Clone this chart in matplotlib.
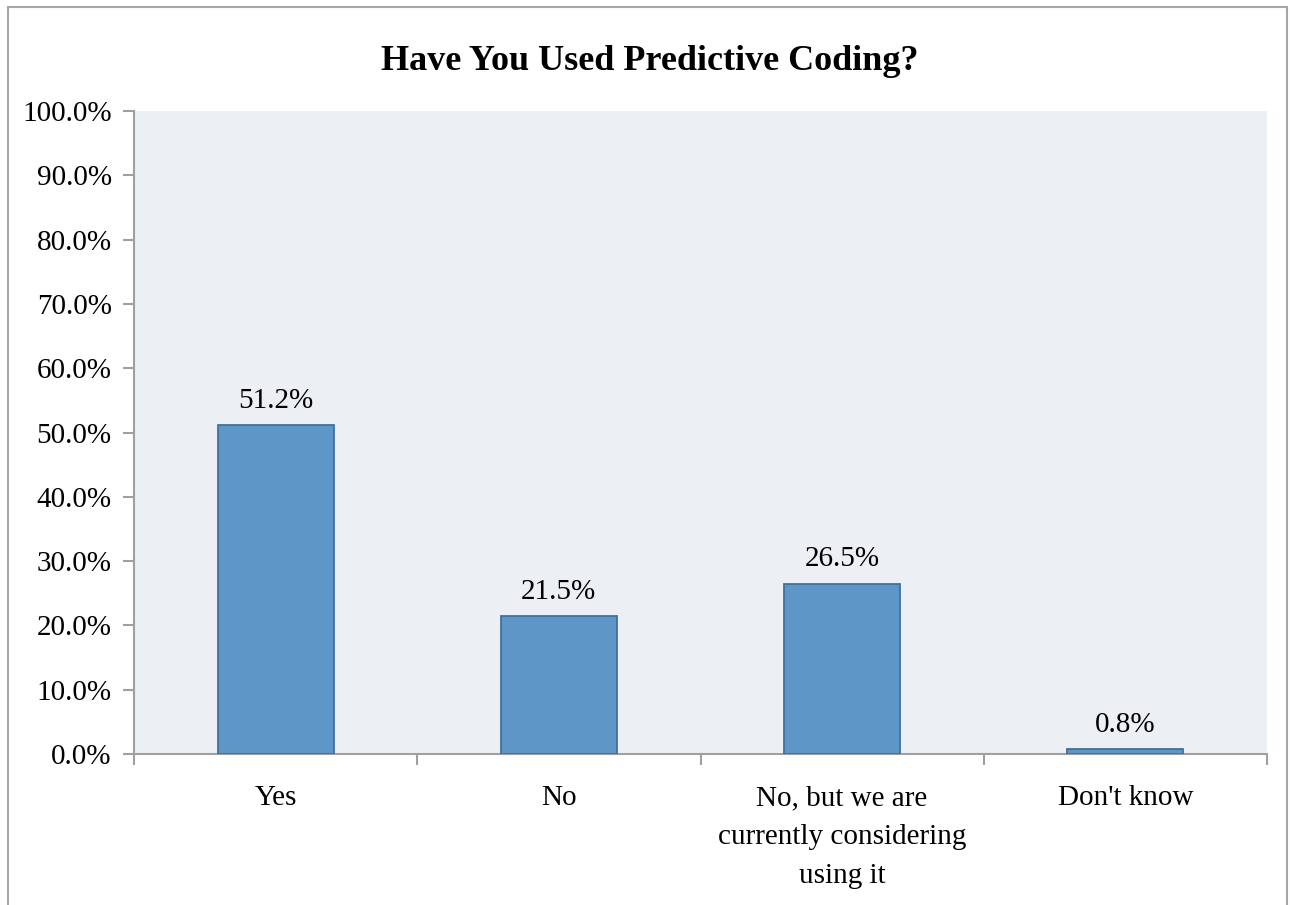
import matplotlib
matplotlib.use("Agg")
import matplotlib.pyplot as plt
from matplotlib.patches import Rectangle

categories = ["Yes", "No", "No, but we are\ncurrently considering\nusing it", "Don't know"]
values = [51.2, 21.5, 26.5, 0.8]
value_labels = ["51.2%", "21.5%", "26.5%", "0.8%"]
title = "Have You Used Predictive Coding?"
yticks = list(range(0, 101, 10))

plt.rcParams['font.family'] = ['Liberation Serif', 'DejaVu Serif']

fig = plt.figure(figsize=(12.9, 9.05), dpi=100)
fig.patch.set_facecolor("white")
# outer chart border
fig.add_artist(Rectangle((8/1290, -0.01), (1287-8)/1290, 1.01 - 7/905,
                         transform=fig.transFigure, fill=False,
                         edgecolor="#a6a6a6", linewidth=1.5))

ax = fig.add_axes([134/1290, 1 - 754/905, (1267-134)/1290, (754-111)/905])
ax.set_facecolor("#eceff4")

x = list(range(len(categories)))
ax.bar(x, values, width=0.41, color="#5f96c8", edgecolor="#41709c", linewidth=1.3, zorder=3)

ax.set_xlim(-0.5, len(categories) - 0.5)
ax.set_ylim(0, 100)
ax.set_yticks(yticks)
ax.set_yticklabels([f"{v:.1f}%" for v in yticks], fontsize=21)

# category labels between boundary ticks
ax.set_xticks([i - 0.5 for i in range(len(categories) + 1)])
ax.set_xticklabels([])
ax.set_xticks(x, minor=True)
ax.set_xticklabels(categories, minor=True, fontsize=21, linespacing=1.64, va="top")
ax.tick_params(axis="x", which="minor", length=0, pad=22.5)
ax.tick_params(axis="x", which="major", length=8, width=1.5, color="#a0a0a0", direction="out")
ax.tick_params(axis="y", which="major", length=8, width=1.5, color="#a0a0a0", direction="out", pad=8)

for s in ["top", "right"]:
    ax.spines[s].set_visible(False)
for s in ["left", "bottom"]:
    ax.spines[s].set_color("#a0a0a0")
    ax.spines[s].set_linewidth(1.5)

for xi, v, lab in zip(x, values, value_labels):
    ax.annotate(lab, (xi, v), xytext=(0, 8), textcoords="offset points",
                ha="center", va="bottom", fontsize=21)

fig.text(650/1290, 1 - 62/905, title, ha="center", va="center",
         fontsize=26, fontweight="bold")

fig.savefig("out.png", dpi=100)
